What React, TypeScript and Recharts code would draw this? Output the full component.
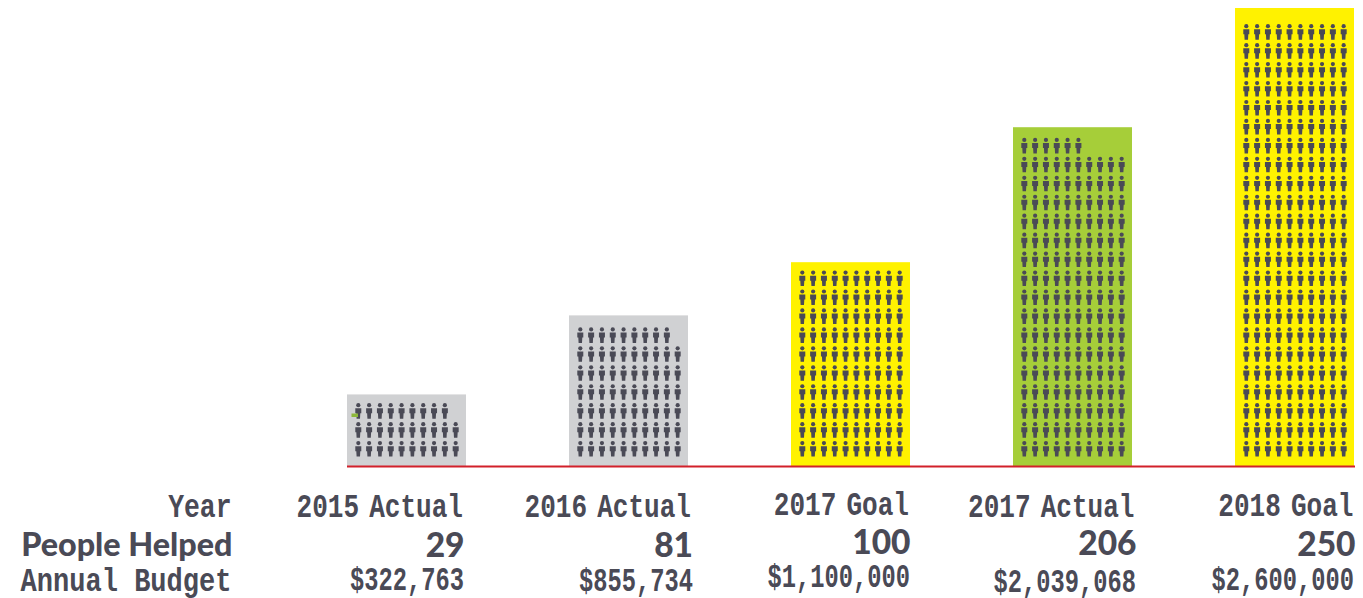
import { BarChart, Bar, XAxis, YAxis, Cell } from "recharts";

const years = ["2015 Actual", "2016 Actual", "2017 Goal", "2017 Actual", "2018 Goal"];
const peopleHelped = [29, 81, 100, 206, 250];
const budgets = ["$322,763", "$855,734", "$1,100,000", "$2,039,068", "$2,600,000"];
// the bars are not drawn to the labelled numbers, these levels are read off the picture
const barLevels = [39.3, 82.4, 111.4, 185, 250];
// icons actually drawn in each bar, counted from the picture
const iconCounts = [29, 69, 100, 166, 230];
const barColors = ["#d0d1d3", "#d0d1d3", "#fff200", "#a6ce39", "#fff200"];
const rowHeaders = ["Year", "People Helped", "Annual Budget"];

const data = years.map((year, i) => ({
  year,
  people: peopleHelped[i],
  budget: budgets[i],
  level: barLevels[i],
  icons: iconCounts[i],
}));

const INK = "#4a4a56";
const MONO = "'Liberation Mono', monospace";

// text layout, the source labels are not quite aligned with each other
const yearBase = [517, 517, 515, 517, 516];
const peopleBase = [557, 557, 554, 555, 556];
const budgetBase = [590, 591, 587, 592, 590];
const yearRight = [57, 63, 59, 62.5, 59.5];
const peopleRight = [58.5, 65, 60.5, 64.5, 61.5];
const budgetRight = [58, 65, 60, 64, 60];

function MonoText({ x, y, text, scale, size, gap = 0 }: any) {
  return (
    <text
      transform={`translate(${x},${y}) scale(${scale},1)`}
      textAnchor="end"
      fontFamily={MONO}
      fontSize={size}
      fontWeight={700}
      wordSpacing={gap}
      fill={INK}
    >
      {text}
    </text>
  );
}

function BoldText({ x, y, text, size }: any) {
  return (
    <text x={x} y={y} textAnchor="end" fontFamily="Lato" fontWeight={900} fontSize={size} fill={INK}>
      {text}
    </text>
  );
}

function ColumnTick({ x, index }: any) {
  const d = data[index];
  return (
    <g>
      {index === 0 && (
        <g>
          <MonoText x={231.5} y={517} text={rowHeaders[0]} scale={0.8} size={33} />
          <BoldText x={232.5} y={556} text={rowHeaders[1]} size={32.3} />
          <MonoText x={231.5} y={591} text={rowHeaders[2]} scale={0.82} size={33} />
        </g>
      )}
      <MonoText x={x + yearRight[index]} y={yearBase[index]} text={d.year} scale={0.79} size={33} gap={-7} />
      <BoldText x={x + peopleRight[index]} y={peopleBase[index]} text={String(d.people)} size={33.5} />
      <MonoText x={x + budgetRight[index]} y={budgetBase[index]} text={d.budget} scale={0.72} size={33} />
    </g>
  );
}

function Person({ cx, top }: { cx: number; top: number }) {
  return (
    <g fill={INK}>
      <circle cx={cx} cy={top + 2.1} r={2.1} />
      <path
        d={`M${cx - 3} ${top + 5.2} H${cx + 3} V${top + 10.2} H${cx + 2} L${cx + 1.7} ${top + 15.6} H${cx - 1.7} L${cx - 2} ${top + 10.2} H${cx - 3} Z`}
      />
    </g>
  );
}

function IconBar({ x, y, width, height, fill, index, payload }: any) {
  const bottom = y + height;
  const mid = x + width / 2 + 0.5;
  const total = payload.icons;
  const rows = Math.ceil(total / 10);
  const firstRow = total % 10 || 10;
  const people = [];
  for (let n = 0; n < total; n++) {
    // the top row is short and left aligned, the rest are full
    const row = n < firstRow ? rows - 1 : rows - 2 - Math.floor((n - firstRow) / 10);
    const col = n < firstRow ? n : (n - firstRow) % 10;
    people.push(<Person key={n} cx={mid - 48.7 + col * 10.82} top={bottom - 25.5 - row * 18.95} />);
  }
  return (
    <g>
      <rect x={x} y={y} width={width} height={height} fill={fill} />
      {people}
      {index === 0 && <rect x={351.5} y={413.5} width={6.5} height={3.5} fill="#8db83a" />}
    </g>
  );
}

export default function App() {
  return (
    <div style={{ width: 1363, height: 598, overflow: "hidden", background: "#fff" }}>
      <style>{"body{margin:0}"}</style>
      <BarChart
        width={1363}
        height={598}
        data={data}
        margin={{ top: 8, right: 8, bottom: 0, left: 347 }}
        barSize={119}
      >
        <YAxis hide domain={[0, 250]} />
        <XAxis
          dataKey="year"
          height={131.5}
          interval={0}
          padding={{ left: -52, right: -50 }}
          tickLine={false}
          axisLine={{ stroke: "#d2202a", strokeWidth: 2 }}
          tick={<ColumnTick />}
        />
        <Bar dataKey="level" shape={<IconBar />} isAnimationActive={false}>
          {data.map((d, i) => (
            <Cell key={d.year} fill={barColors[i]} />
          ))}
        </Bar>
      </BarChart>
    </div>
  );
}
